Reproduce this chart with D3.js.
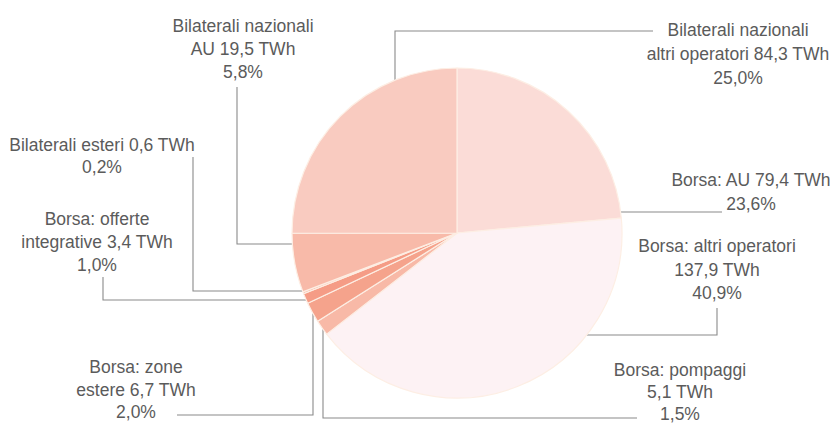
<!DOCTYPE html>
<html>
<head>
<meta charset="utf-8">
<script src="https://cdn.jsdelivr.net/npm/d3@7/dist/d3.min.js"></script>
<style>
  html, body { margin: 0; padding: 0; background: #ffffff; }
  svg { display: block; }
  text { font-family: "Liberation Sans", Arial, sans-serif; font-size: 17.5px; fill: #5b5b5b; }
</style>
</head>
<body>
<svg id="chart" width="839" height="423"></svg>
<script>
// Energy traded by channel (TWh), clockwise from twelve o'clock
const categories = [
  "Borsa: AU",
  "Borsa: altri operatori",
  "Borsa: pompaggi",
  "Borsa: zone estere",
  "Borsa: offerte integrative",
  "Bilaterali esteri",
  "Bilaterali nazionali AU",
  "Bilaterali nazionali altri operatori"
];
const valuesTWh = [79.4, 137.9, 5.1, 6.7, 3.4, 0.6, 19.5, 84.3];

// Label lines; {v} is replaced by the TWh value, {p} by the share
const labelLines = [
  ["Borsa: AU {v} TWh", "{p}%"],
  ["Borsa: altri operatori", "{v} TWh", "{p}%"],
  ["Borsa: pompaggi", "{v} TWh", "{p}%"],
  ["Borsa: zone", "estere {v} TWh", "{p}%"],
  ["Borsa: offerte", "integrative {v} TWh", "{p}%"],
  ["Bilaterali esteri {v} TWh", "{p}%"],
  ["Bilaterali nazionali", "AU {v} TWh", "{p}%"],
  ["Bilaterali nazionali", "altri operatori {v} TWh", "{p}%"]
];

const sliceColors = ["#fbdcd7", "#fdf2f4", "#f8b9a7", "#f5a38c", "#f59c86", "#f5a993", "#f8baa9", "#f9cbc0"];

// Label placement and leader routes (the last segment runs to the pie rim)
const layout = [
  { x: 751, y: 186, gap: 23.5, route: [[722, 212]], toRim: "h" },
  { x: 717, y: 252, gap: 23.5, route: [[717, 308], [717, 335]], toRim: "h" },
  { x: 680, y: 376, gap: 22, route: [[637, 418], [323, 418]], toRim: "v" },
  { x: 136, y: 373, gap: 22.5, route: [[177, 415], [313, 415]], toRim: "v" },
  { x: 97, y: 225, gap: 23, route: [[103, 277], [103, 300]], toRim: "h" },
  { x: 102, y: 151, gap: 22, route: [[193, 157], [193, 291]], toRim: "h" },
  { x: 243, y: 32, gap: 23, route: [[237, 87], [237, 244]], toRim: "h" },
  { x: 738, y: 36, gap: 24, route: [[653, 31], [395, 31]], toRim: "v" }
];

const cx = 457, cy = 233, radius = 165;

const svg = d3.select("#chart");
const total = d3.sum(valuesTWh);
const fmt1 = v => d3.format(".1f")(v).replace(".", ",");

const data = categories.map((c, i) => ({ name: c, value: valuesTWh[i], i }));

const pie = d3.pie().sort(null).value(d => d.value).startAngle(0).endAngle(2 * Math.PI);
const arc = d3.arc().innerRadius(0).outerRadius(radius);

const color = d3.scaleOrdinal().domain(categories).range(sliceColors);

// Leader lines
function rimPoint(p, mode) {
  const [x, y] = p;
  if (mode === "h") {
    const dx = Math.sqrt(Math.max(0, radius * radius - (y - cy) * (y - cy)));
    return [x < cx ? cx - dx : cx + dx, y];
  }
  const dy = Math.sqrt(Math.max(0, radius * radius - (x - cx) * (x - cx)));
  return [x, y < cy ? cy - dy : cy + dy];
}

const lineGen = d3.line();
svg.append("g").selectAll("path")
  .data(layout)
  .join("path")
  .attr("d", d => {
    const pts = d.route.slice();
    pts.push(rimPoint(pts[pts.length - 1], d.toRim));
    return lineGen(pts);
  })
  .attr("fill", "none")
  .attr("stroke", "#8a8a8a")
  .attr("stroke-width", 1.1);

// Pie
svg.append("g")
  .attr("transform", `translate(${cx},${cy})`)
  .selectAll("path")
  .data(pie(data))
  .join("path")
  .attr("d", arc)
  .attr("fill", d => color(d.data.name))
  .attr("stroke", "#fdeee4")
  .attr("stroke-width", 1.2)
  .attr("stroke-linejoin", "round");

// Labels
const labels = svg.append("g").selectAll("text")
  .data(data)
  .join("text")
  .attr("x", d => layout[d.i].x)
  .attr("y", d => layout[d.i].y)
  .attr("text-anchor", "middle");

labels.each(function (d) {
  const t = d3.select(this);
  const pct = fmt1(d.value / total * 100);
  labelLines[d.i].forEach((line, k) => {
    t.append("tspan")
      .attr("x", layout[d.i].x)
      .attr("dy", k === 0 ? 0 : layout[d.i].gap)
      .text(line.replace("{v}", fmt1(d.value)).replace("{p}", pct));
  });
});
</script>
</body>
</html>
